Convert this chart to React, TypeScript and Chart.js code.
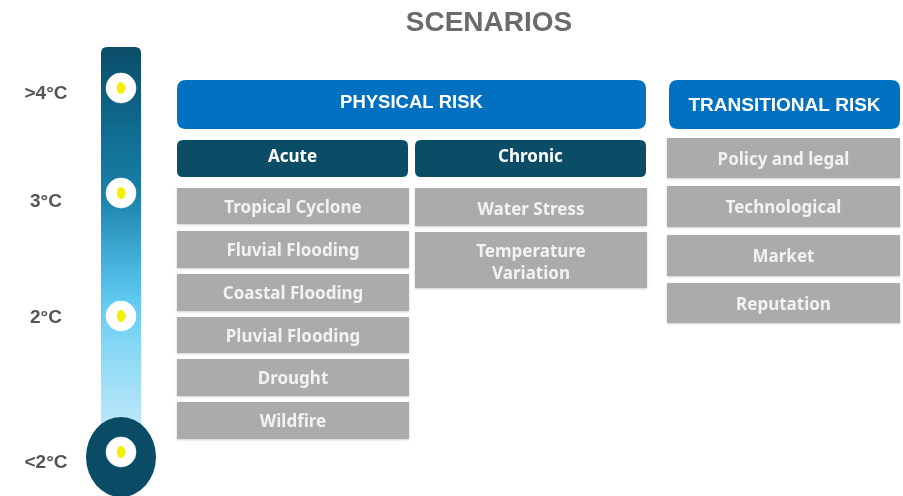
import React, { useEffect, useRef } from "react";
import { Chart, registerables } from "chart.js";

Chart.register(...registerables);

// ---- content ----
const titleText = "SCENARIOS";
const tempLabels = [">4°C", "3°C", "2°C", "<2°C"];
const physicalHeader = "PHYSICAL RISK";
const transitionalHeader = "TRANSITIONAL RISK";
const physicalGroups = ["Acute", "Chronic"];
const acuteRisks = ["Tropical Cyclone", "Fluvial Flooding", "Coastal Flooding", "Pluvial Flooding", "Drought", "Wildfire"];
const chronicRisks = ["Water Stress", "Temperature\nVariation"];
const transitionalRisks = ["Policy and legal", "Technological", "Market", "Reputation"];

// ---- layout (diagram geometry, in scale units == px) ----
const W = 903;
const H = 496;
const LAYOUT = {
  title: { x: 489, y: 23.5 },
  tube: { x0: 101, x1: 141, y0: 47, y1: 432 },
  bulb: { cx: 121, cy: 457, rx: 35, ry: 40 },
  markerX: 121,
  markerY: [88, 193, 316, 452],
  labelX: 46,
  labelY: [93.5, 201.5, 317.5, 462.5],
  phys: { x0: 177, x1: 646, y0: 80, y1: 129, ty: 102 },
  trans: { x0: 669, x1: 900, y0: 80, y1: 129, ty: 105 },
  groupsX: [[177, 408], [415, 646]],
  groupY: [140, 177],
  acuteX: [177, 409],
  acuteRows: [[188, 224], [231, 268], [274, 311], [317, 353], [359, 396], [402, 439]],
  chronicX: [415, 647],
  chronicRows: [[188, 226], [232, 288]],
  transX: [667, 900],
  transRows: [[138, 178], [186, 227], [235, 276], [283, 323]],
};

const COLORS = {
  title: "#6b6b6b",
  temp: "#555555",
  blue: "#0070c0",
  dark: "#0b4d66",
  gray: "#ababab",
  grayText: "#f2f2f2",
  bulb: "#0a4c65",
};

function roundRect(ctx: CanvasRenderingContext2D, x0: number, y0: number, x1: number, y1: number, r: number) {
  ctx.beginPath();
  ctx.moveTo(x0 + r, y0);
  ctx.lineTo(x1 - r, y0);
  ctx.quadraticCurveTo(x1, y0, x1, y0 + r);
  ctx.lineTo(x1, y1 - r);
  ctx.quadraticCurveTo(x1, y1, x1 - r, y1);
  ctx.lineTo(x0 + r, y1);
  ctx.quadraticCurveTo(x0, y1, x0, y1 - r);
  ctx.lineTo(x0, y0 + r);
  ctx.quadraticCurveTo(x0, y0, x0 + r, y0);
  ctx.closePath();
}

function makeYellowDot() {
  const c = document.createElement("canvas");
  c.width = 10;
  c.height = 14;
  const g = c.getContext("2d")!;
  g.fillStyle = "#f5f000";
  g.beginPath();
  g.ellipse(5, 7, 4.2, 6, 0, 0, Math.PI * 2);
  g.fill();
  return c;
}

const diagramPlugin = {
  id: "diagram",
  beforeDatasetsDraw(chart: any) {
    const ctx: CanvasRenderingContext2D = chart.ctx;
    const xs = chart.scales.x;
    const ys = chart.scales.y;
    const px = (v: number) => xs.getPixelForValue(v);
    const py = (v: number) => ys.getPixelForValue(v);
    const L = LAYOUT;
    ctx.save();

    // title
    ctx.fillStyle = COLORS.title;
    ctx.font = "bold 28px 'Liberation Sans', Arial, sans-serif";
    ctx.textAlign = "center";
    ctx.textBaseline = "middle";
    ctx.fillText(titleText, px(L.title.x), py(L.title.y));

    // thermometer tube
    const t = L.tube;
    const grad = ctx.createLinearGradient(0, py(t.y0), 0, py(t.y1));
    grad.addColorStop(0, "#0b4d69");
    grad.addColorStop(0.2, "#0e6a8e");
    grad.addColorStop(0.38, "#1980a8");
    grad.addColorStop(0.58, "#4ab7e0");
    grad.addColorStop(0.68, "#66cdf3");
    grad.addColorStop(0.82, "#92dbf5");
    grad.addColorStop(1, "#bfe8f9");
    ctx.fillStyle = grad;
    roundRect(ctx, px(t.x0), py(t.y0), px(t.x1), py(t.y1), 6);
    ctx.fill();

    // bulb
    const b = L.bulb;
    ctx.fillStyle = COLORS.bulb;
    ctx.beginPath();
    ctx.ellipse(px(b.cx), py(b.cy), b.rx, b.ry, 0, 0, Math.PI * 2);
    ctx.fill();

    // temperature labels
    ctx.fillStyle = COLORS.temp;
    ctx.font = "bold 19px 'Liberation Sans', Arial, sans-serif";
    tempLabels.forEach((lab, i) => {
      ctx.fillText(lab, px(L.labelX), py(L.labelY[i]));
    });

    const box = (x0: number, x1: number, y0: number, y1: number, r: number, fill: string, text: string, font: string, color: string, ty?: number) => {
      ctx.fillStyle = fill;
      if (r > 0) {
        roundRect(ctx, px(x0), py(y0), px(x1), py(y1), r);
        ctx.fill();
      } else {
        ctx.shadowColor = "rgba(0,0,0,0.18)";
        ctx.shadowBlur = 2;
        ctx.shadowOffsetY = 1;
        ctx.fillRect(px(x0), py(y0), px(x1) - px(x0), py(y1) - py(y0));
        ctx.shadowColor = "transparent";
        ctx.shadowBlur = 0;
        ctx.shadowOffsetY = 0;
      }
      ctx.fillStyle = color;
      ctx.font = font;
      const lines = text.split("\n");
      const lh = 22;
      const cy = ty !== undefined ? ty : (y0 + y1) / 2;
      const cx = (x0 + x1) / 2;
      lines.forEach((ln, i) => {
        const yy = cy + (i - (lines.length - 1) / 2) * lh;
        ctx.fillText(ln, px(cx), py(yy) + 1);
      });
    };

    const headFont = "bold 18.5px 'Liberation Sans', Arial, sans-serif";
    const itemFont = "bold 17px 'Noto Sans', 'Open Sans', sans-serif";

    box(L.phys.x0, L.phys.x1, L.phys.y0, L.phys.y1, 9, COLORS.blue, physicalHeader, headFont, "#ffffff", L.phys.ty);
    box(L.trans.x0, L.trans.x1, L.trans.y0, L.trans.y1, 9, COLORS.blue, transitionalHeader, "bold 19px 'Liberation Sans', Arial, sans-serif", "#ffffff", L.trans.ty);

    physicalGroups.forEach((g, i) => {
      box(L.groupsX[i][0], L.groupsX[i][1], L.groupY[0], L.groupY[1], 6, COLORS.dark, g, itemFont, "#ffffff", (L.groupY[0] + L.groupY[1]) / 2 - 2);
    });

    acuteRisks.forEach((r, i) => {
      const [y0, y1] = L.acuteRows[i];
      box(L.acuteX[0], L.acuteX[1], y0, y1, 0, COLORS.gray, r, itemFont, COLORS.grayText, (y0 + y1) / 2 + 1);
    });
    chronicRisks.forEach((r, i) => {
      const [y0, y1] = L.chronicRows[i];
      box(L.chronicX[0], L.chronicX[1], y0, y1, 0, COLORS.gray, r, itemFont, COLORS.grayText, (y0 + y1) / 2 + 2);
    });
    transitionalRisks.forEach((r, i) => {
      const [y0, y1] = L.transRows[i];
      box(L.transX[0], L.transX[1], y0, y1, 0, COLORS.gray, r, itemFont, COLORS.grayText, (y0 + y1) / 2 + 1);
    });

    ctx.restore();
  },
};

export default function App() {
  const ref = useRef<HTMLCanvasElement | null>(null);
  useEffect(() => {
    document.body.style.margin = "0";
    const canvas = ref.current!;
    const yellow = makeYellowDot();
    const chart = new Chart(canvas, {
      type: "scatter",
      data: {
        datasets: [
          {
            label: "markers",
            order: 2,
            data: tempLabels.map((_, i) => ({ x: LAYOUT.markerX, y: LAYOUT.markerY[i] })),
            pointStyle: "circle",
            pointRadius: 15,
            pointHoverRadius: 15,
            backgroundColor: "#ffffff",
            borderColor: "rgba(255,255,255,0.6)",
            borderWidth: 1,
          },
          {
            label: "dots",
            order: 1,
            data: tempLabels.map((_, i) => ({ x: LAYOUT.markerX, y: LAYOUT.markerY[i] })),
            pointStyle: yellow as any,
            pointRadius: 5,
            backgroundColor: "#f5f000",
          },
        ],
      },
      options: {
        responsive: false,
        animation: false,
        events: [],
        clip: false,
        layout: { padding: 0, autoPadding: false },
        plugins: { legend: { display: false }, tooltip: { enabled: false } },
        scales: {
          x: { type: "linear", min: 0, max: W, display: false },
          y: { type: "linear", min: 0, max: H, reverse: true, display: false },
        },
      } as any,
      plugins: [diagramPlugin],
    });
    return () => chart.destroy();
  }, []);
  return <canvas ref={ref} width={W} height={H} style={{ display: "block" }} />;
}
